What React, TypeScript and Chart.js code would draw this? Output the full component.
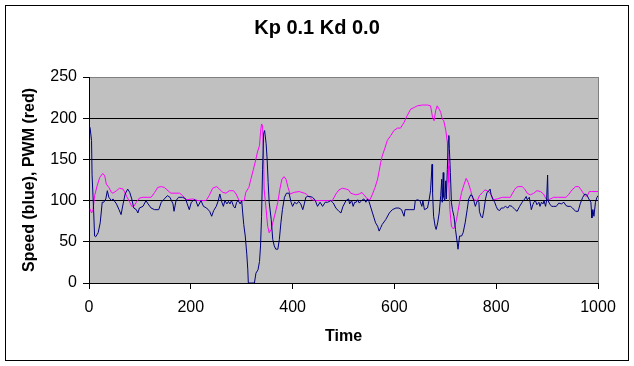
import React, { useEffect, useRef } from "react";
import { Chart, registerables } from "chart.js";

Chart.register(...registerables);

const TITLE = "Kp 0.1 Kd 0.0";
const X_TITLE = "Time";
const Y_TITLE = "Speed (blue), PWM (red)";

const X_MIN = 0;
const X_MAX = 1000;
const X_STEP = 200;
const Y_MIN = 0;
const Y_MAX = 250;
const Y_STEP = 50;

// Speed (blue)
const speedTime = [
  2, 5, 6, 9, 11, 13, 18, 22, 26, 29, 33, 36, 39, 44, 47, 54, 59, 63, 67, 71, 76, 80, 84, 88, 93, 96, 99, 106, 112, 116,
  122, 129, 137, 142, 148, 154, 159, 165, 167, 171, 176, 184, 190, 193, 197, 201, 207, 210, 214, 220, 225, 231, 237, 241,
  245, 250, 254, 257, 261, 264, 267, 271, 274, 277, 280, 284, 287, 290, 293, 297, 300, 302, 304, 307, 310, 312, 313, 318,
  325, 328, 332, 335, 337, 339, 341, 343, 345, 348, 350, 352, 354, 358, 361, 364, 367, 371, 374, 377, 380, 384, 388, 393,
  397, 400, 404, 408, 412, 416, 420, 423, 426, 429, 434, 439, 444, 449, 454, 459, 464, 469, 475, 480, 485, 491, 495, 499,
  505, 510, 512, 516, 519, 522, 525, 528, 531, 534, 537, 540, 544, 547, 550, 554, 557, 560, 563, 567, 570, 573, 576, 583,
  590, 596, 603, 609, 614, 619, 621, 629, 639, 641, 645, 650, 654, 656, 659, 665, 668, 671, 674, 675, 677, 680, 682, 685,
  688, 691, 693, 694, 696, 697, 699, 701, 702, 704, 706, 707, 708, 710, 712, 714, 717, 720, 723, 725, 728, 732, 735, 739,
  743, 746, 750, 753, 756, 759, 763, 766, 767, 770, 773, 776, 779, 782, 786, 788, 790, 793, 797, 800, 803, 807, 810, 814,
  818, 823, 826, 831, 837, 841, 846, 851, 856, 859, 861, 865, 868, 869, 872, 874, 877, 880, 884, 886, 889, 892, 894, 897,
  899, 901, 902, 905, 909, 913, 918, 923, 928, 933, 937, 941, 946, 950, 956, 961, 965, 970, 974, 978, 982, 986, 987, 988,
  990, 992, 995, 998, 1000,
];
const speedValues = [
  189, 173, 132, 89, 57, 56, 61, 73, 98, 98, 102, 112, 104, 100, 102, 96, 89, 83, 96, 108, 114, 110, 102, 91, 89, 85, 91, 93, 100, 96,
  91, 89, 89, 98, 102, 106, 104, 96, 87, 100, 104, 104, 102, 96, 89, 98, 101, 100, 93, 100, 93, 91, 87, 81,
  88, 93, 100, 108, 98, 93, 100, 96, 99, 96, 100, 93, 91, 98, 100, 96, 100, 85, 71, 57, 35, 16, 0, 0,
  0, 12, 16, 26, 45, 81, 138, 181, 185, 169, 150, 122, 98, 77, 53, 45, 41, 41, 53, 73, 89, 104, 109, 109,
  98, 93, 98, 96, 99, 96, 89, 96, 104, 105, 105, 104, 101, 93, 98, 93, 98, 98, 100, 97, 91, 87, 85, 93,
  100, 102, 96, 100, 93, 98, 98, 101, 97, 99, 101, 102, 98, 102, 99, 91, 85, 79, 73, 69, 63, 67, 71, 77,
  85, 89, 91, 91, 89, 81, 89, 89, 89, 100, 101, 100, 93, 100, 89, 91, 100, 112, 144, 110, 81, 69, 65, 73,
  85, 106, 126, 98, 134, 104, 100, 124, 102, 138, 173, 179, 163, 134, 98, 89, 81, 65, 51, 41, 57, 57, 61, 73,
  89, 102, 107, 106, 100, 93, 100, 98, 87, 81, 79, 89, 102, 110, 112, 114, 107, 102, 98, 93, 89, 88, 91, 91,
  93, 91, 94, 93, 89, 87, 93, 98, 102, 105, 101, 104, 93, 89, 95, 98, 100, 95, 98, 93, 98, 96, 100, 93,
  100, 131, 100, 96, 93, 93, 93, 97, 96, 98, 94, 93, 93, 91, 87, 87, 96, 104, 108, 107, 102, 98, 89, 79,
  89, 81, 98, 104, 106,
];

// PWM (red / magenta)
const pwmTime = [
  2, 5, 8, 11, 16, 21, 27, 31, 34, 39, 44, 47, 54, 60, 67, 71, 75, 80, 84, 88, 93, 99, 106, 122, 129, 135, 142, 148, 155,
  161, 178, 184, 191, 204, 214, 230, 236, 243, 251, 256, 263, 269, 276, 284, 289, 295, 305, 308, 314, 318, 323, 327, 331,
  335, 337, 339, 341, 343, 344, 348, 351, 354, 358, 361, 366, 371, 375, 379, 383, 387, 391, 395, 403, 413, 423, 427, 433,
  439, 446, 452, 478, 485, 491, 498, 505, 510, 514, 524, 531, 536, 540, 547, 552, 557, 562, 567, 570, 573, 576, 582, 586,
  593, 599, 606, 612, 619, 625, 632, 639, 645, 655, 665, 671, 675, 678, 681, 684, 688, 691, 694, 697, 701, 704, 706, 707,
  709, 712, 715, 718, 722, 725, 728, 732, 737, 741, 745, 750, 753, 756, 763, 767, 773, 778, 782, 787, 791, 795, 802, 812,
  828, 831, 838, 843, 851, 856, 861, 867, 874, 880, 887, 893, 898, 903, 913, 920, 937, 942, 949, 956, 962, 967, 972, 976,
  980, 983, 987, 1000,
];
const pwmValues = [
  90, 85, 89, 106, 118, 128, 133, 130, 120, 116, 110, 109, 112, 115, 114, 109, 104, 98, 93, 93, 98, 103, 104, 104, 110, 116, 117, 116, 112,
  109, 109, 106, 101, 102, 100, 100, 106, 115, 117, 114, 110, 109, 112, 112, 108, 100, 100, 110, 116, 126, 138, 148, 159,
  167, 183, 193, 191, 154, 114, 89, 69, 61, 65, 73, 85, 98, 114, 126, 129, 126, 116, 108, 110, 111, 109, 108, 104,
  101, 100, 100, 100, 108, 113, 115, 114, 113, 109, 107, 108, 110, 107, 102, 101, 108, 116, 126, 136, 146, 154, 165, 173,
  179, 185, 188, 188, 195, 203, 211, 213, 215, 216, 216, 215, 201, 197, 209, 215, 211, 207, 199, 197, 185, 171, 142, 122,
  89, 69, 66, 67, 77, 87, 98, 110, 120, 127, 122, 112, 104, 101, 100, 106, 110, 113, 112, 110, 106, 101, 102, 104,
  104, 108, 115, 117, 117, 114, 109, 107, 109, 112, 111, 108, 102, 101, 104, 104, 104, 107, 113, 117, 117, 113, 108, 105,
  107, 111, 111, 111,
];

const FONT_FAMILY = "'Liberation Sans', Arial, sans-serif";

const framePlugin = {
  id: "excelFrame",
  beforeDraw(chart: any) {
    const { ctx, chartArea: a } = chart;
    ctx.save();
    ctx.fillStyle = "#ffffff";
    ctx.fillRect(0, 0, chart.width, chart.height);
    ctx.strokeStyle = "#000000";
    ctx.lineWidth = 1;
    ctx.strokeRect(5.5, 5.5, 623, 355);
    ctx.fillStyle = "#c0c0c0";
    ctx.fillRect(a.left, a.top, a.right - a.left, a.bottom - a.top);
    ctx.strokeStyle = "#808080";
    ctx.strokeRect(a.left + 0.5, a.top + 0.5, a.right - a.left, a.bottom - a.top);
    ctx.restore();
  },
};

export default function App() {
  const canvasRef = useRef<HTMLCanvasElement | null>(null);

  useEffect(() => {
    const canvas = canvasRef.current;
    if (!canvas) return;
    const speedData = speedTime.map((t, i) => ({ x: t, y: speedValues[i] }));
    const pwmData = pwmTime.map((t, i) => ({ x: t, y: pwmValues[i] }));

    const chart = new Chart(canvas, {
      type: "line",
      data: {
        datasets: [
          {
            label: "Speed",
            data: speedData,
            borderColor: "#000080",
            borderWidth: 1,
            pointRadius: 0,
            tension: 0,
            fill: false,
            yAxisID: "y",
          },
          {
            label: "PWM",
            data: pwmData,
            borderColor: "#ff00ff",
            borderWidth: 1,
            pointRadius: 0,
            tension: 0,
            fill: false,
            yAxisID: "y",
          },
        ],
      },
      options: {
        animation: false,
        responsive: false,
        devicePixelRatio: 1,
        layout: { padding: { left: 0, right: 0, top: 0, bottom: 0 } },
        plugins: {
          legend: { display: false },
          tooltip: { enabled: false },
          title: {
            display: true,
            text: TITLE,
            color: "#000000",
            font: { family: FONT_FAMILY, size: 20, weight: "bold", lineHeight: 1.2 },
            padding: { top: 16, bottom: 37 },
          },
        },
        scales: {
          x: {
            type: "linear",
            min: X_MIN,
            max: X_MAX,
            ticks: {
              stepSize: X_STEP,
              color: "#000000",
              font: { family: FONT_FAMILY, size: 16 },
              padding: 9,
              maxRotation: 0,
              autoSkip: false,
              callback: (v: any) => String(v),
            },
            grid: {
              drawOnChartArea: false,
              drawTicks: true,
              tickLength: 6,
              color: "#000000",
              tickColor: "#000000",
            },
            border: { display: true, color: "#000000", width: 1 },
            title: {
              display: true,
              text: X_TITLE,
              color: "#000000",
              font: { family: FONT_FAMILY, size: 16, weight: "bold", lineHeight: 1.2 },
              padding: { top: 0, bottom: 20 },
            },
            afterFit: (s: any) => {
              s.height = 83;
            },
          },
          y: {
            type: "linear",
            position: "left",
            min: Y_MIN,
            max: Y_MAX,
            ticks: {
              stepSize: Y_STEP,
              color: "#000000",
              font: { family: FONT_FAMILY, size: 16 },
              padding: 6,
              callback: (v: any) => String(v),
            },
            grid: {
              drawOnChartArea: true,
              drawTicks: true,
              tickLength: 6,
              color: (c: any) => (c.tick && c.tick.value === Y_MAX ? "#808080" : "#000000"),
              tickColor: "#000000",
              lineWidth: 1,
            },
            border: { display: true, color: "#000000", width: 1 },
            title: {
              display: true,
              text: Y_TITLE,
              color: "#000000",
              font: { family: FONT_FAMILY, size: 16, weight: "bold", lineHeight: 1.2 },
              padding: { top: 20, bottom: 0 },
            },
            afterFit: (s: any) => {
              s.width = 89;
            },
          },
          yRight: {
            type: "linear",
            position: "right",
            display: true,
            min: Y_MIN,
            max: Y_MAX,
            ticks: { display: false },
            grid: { display: false, drawTicks: false },
            border: { display: false },
            afterFit: (s: any) => {
              s.width = 36;
            },
          },
        },
      },
      plugins: [framePlugin],
    });

    return () => {
      chart.destroy();
    };
  }, []);

  return (
    <div style={{ position: "absolute", left: 0, top: 0, width: 634, height: 366 }}>
      <canvas ref={canvasRef} width={634} height={366} style={{ display: "block", width: 634, height: 366 }} />
    </div>
  );
}
